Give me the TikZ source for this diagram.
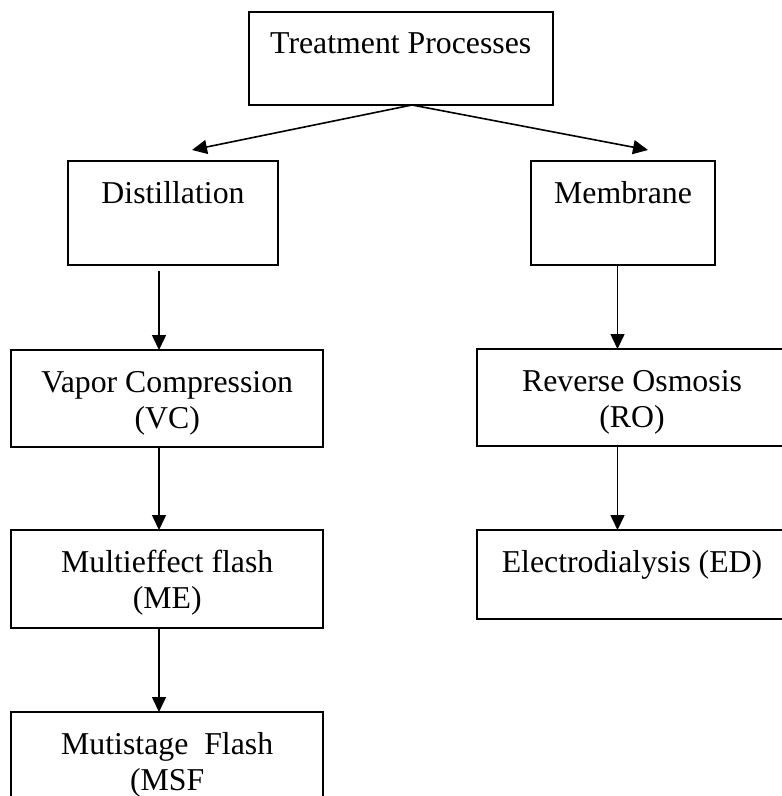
\documentclass[tikz,border=0pt]{standalone}
\usepackage{fontspec}
\setmainfont{Liberation Serif}
\usetikzlibrary{arrows.meta,calc}
\newcommand{\twolines}[2]{\begin{tabular}[t]{@{}c@{}}#1\\#2\end{tabular}}
\begin{document}
\begin{tikzpicture}[x=0.5pt,y=-0.5pt,
  box/.style={draw, line width=1pt, inner xsep=0pt, inner ysep=0pt, outer sep=0pt,
    anchor=north, text height=21pt, font=\fontsize{15.9pt}{18.3pt}\selectfont},
  arr/.style={line width=0.8pt, -{Triangle[length=7.5pt,width=7pt]}}]
\useasboundingbox (0,0) rectangle (781,796);
\node[box, minimum width=152.25pt, text depth=25.65pt] (tp) at (400.75,11.7) {Treatment Processes};
\node[box, minimum width=105pt, text depth=31pt] (dist) at (173,161.4) {Distillation};
\node[box, minimum width=92pt, text depth=31pt] (mem) at (623,161.4) {Membrane};
\node[box, minimum width=155.75pt, text depth=27.35pt] (vc) at (167.2,350) {\twolines{Vapor Compression}{(VC)}};
\node[box, minimum width=155.5pt, text depth=27.35pt] (ro) at (632,349) {\twolines{Reverse Osmosis}{(RO)}};
\node[box, minimum width=155.75pt, text depth=28pt] (me) at (167.2,530) {\twolines{Multieffect flash}{(ME)}};
\node[box, minimum width=155.5pt, text depth=23.5pt] (ed) at (632,530) {Electrodialysis (ED)};
\node[box, minimum width=155.75pt, text depth=39pt] (msf) at (167.2,712) {\twolines{Mutistage~~Flash}{(MSF}};
\coordinate (tl) at (192,150);
\coordinate (tr) at (648,150);
\coordinate (cl) at (159,0);
\coordinate (cr) at (617.5,0);
\draw[arr] ($(tp.south)+(11.25,0)$) -- (tl);
\draw[arr] ($(tp.south)+(11.25,0)$) -- (tr);
\draw[arr] ($(dist.south -| cl)+(0,5.5)$) -- (vc.north -| cl);
\draw[arr] (mem.south -| cr) -- (ro.north -| cr);
\draw[arr] (vc.south -| cl) -- (me.north -| cl);
\draw[arr] (me.south -| cl) -- (msf.north -| cl);
\draw[arr] (ro.south -| cr) -- (ed.north -| cr);
\end{tikzpicture}
\end{document}
